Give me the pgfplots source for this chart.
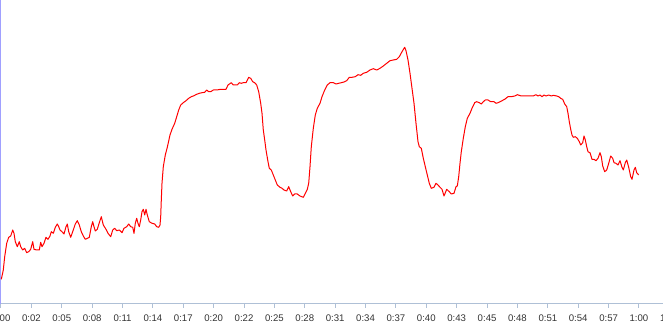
\documentclass[border=0pt]{standalone}
\usepackage{pgfplots}
\pgfplotsset{compat=1.18}
\usepackage{fontspec}
\setmainfont{Liberation Sans}
\definecolor{yaxc}{HTML}{A0A0FF}
\definecolor{xaxc}{HTML}{AFC0D6}
\definecolor{lblc}{HTML}{333333}
\begin{document}
\begin{tikzpicture}
\begin{axis}[at={(0,0)},anchor=south west,
  scale only axis, width=524.25pt, height=228pt,
  xmin=1, xmax=700, ymin=0, ymax=304,
  axis x line=bottom, axis y line=left, axis line style={-},
  x axis line style={xaxc,line width=0.75pt},
  y axis line style={yaxc,line width=0.75pt},
  ytick=\empty,
  xtick={1,31.38,61.76,92.14,122.52,152.9,183.28,213.66,244.04,274.42,304.8,335.18,365.56,395.94,426.32,456.7,487.08,517.46,547.84,578.22,608.6,638.98,669.36},
  xticklabels={0:00,0:02,0:05,0:08,0:11,0:14,0:17,0:20,0:22,0:25,0:28,0:31,0:34,0:37,0:40,0:43,0:45,0:48,0:51,0:54,0:57,1:00,1:02},
  tick align=outside, major tick length=3pt,
  x tick style={xaxc,line width=0.75pt},
  xticklabel style={font=\fontsize{7.2}{8}\selectfont, text=lblc, yshift=-1.5pt},
]
\addplot[color=red, line width=0.75pt, line join=round] table {
x y
1.3 24.7
3.3 34
4.7 47.3
6.7 60.7
8.7 66.7
10.7 68
12.7 74
14 70.7
15.3 62.3
17.3 57.3
19.3 62.3
20.7 57.3
22.7 54
24.7 55.7
26.7 51.3
28.7 52.3
30.7 54.7
32.7 62.3
34 54.7
36.7 54
39.3 54
40.7 61.7
42 57.3
44 60.7
46 66.7
48 64.7
50 68
51.3 72.3
53.3 70.7
55.3 76.7
57.3 80
58.7 77.3
60 74
62 72.3
64 70
66 77.3
67.3 80
68.7 72.3
70.7 66.7
72.7 72.3
75.3 80
77.3 83.3
79.3 79
81.3 72.3
83.3 68
85.3 64.7
87.3 65.7
89.3 66.7
91.3 77.3
92.7 82.3
94 77.3
95.3 73
97.3 74.7
99.3 81.3
101.3 87.3
103.3 79
106 74.7
108 70.7
110.7 67.3
112.7 74
114.7 75.7
116.7 73.3
119.3 74
122 71.3
124 75.7
126.7 77.3
128.7 80
130.7 77.3
132.7 76.7
134 70.7
135.3 80.7
136.7 85.7
138 80.7
139.3 77.3
140.7 84
142 92.3
143.3 94.7
144.7 89
146 94.7
147.3 89
149.3 82.3
152 80.7
154.7 80
156.7 77.3
158.7 76.7
160 79
160.7 87.3
161.3 104
162 120.7
163.3 137.3
165.3 149
167.3 156.7
170 169
172 174.7
174.7 180.7
176.7 187.3
178.7 194
180.7 199
183.3 201.3
186 203.3
188.7 205.7
191.3 207.3
194 208.3
196.7 209.7
199.3 210.7
202 211.3
204.7 211.7
206.7 214
208.7 212.3
210.7 212.3
213.3 214
216.7 214
220.7 214.7
226 214.7
228 219
231.3 221.3
233.3 219
237.3 219
239.3 221.3
241.3 220.7
243.3 221.3
246 221.3
248.7 226.7
250.7 225.7
252.7 222.3
254.7 221.3
256.7 219
258.7 212.3
260.7 200.7
262 190.7
263.3 174
264.7 164
266 154
268 142.3
269.3 135.7
271.3 134
273.3 129
275.3 124
277.3 119
280 116.7
282 115.7
284 114
286.7 113
288.7 117.3
290.7 112.3
292.7 108
294.7 110
297.3 110
300 108
303.3 106.7
305.3 110.7
307.3 114.7
308.7 120.7
310 137.3
311.3 157.3
313.3 175.7
315.3 189
317.3 195.7
320 200.7
322 207.3
324.7 214
327.3 219
330 221.3
333.3 221.3
336 220
338.7 220.7
341.3 221.3
344 222
346.7 223.3
349.3 226.7
352 226.7
355.3 227.3
358 229.3
360.7 228.7
363.3 230.7
366.7 231.7
370 234
373.3 235.3
376.7 234
380 235.7
383.3 238
386.7 240.7
390 243.3
393.3 244
396.7 244.7
399.3 247.3
402 252.3
404.7 256.7
406 253.3
408 244
410 230.7
412 215.7
414 200.7
416 180.7
418 162.3
419.3 157.3
421.3 155.7
423.3 145.7
425.3 137.3
427.3 129
429.3 120.7
431.3 115.7
434 116.7
436 120.7
438 119
440 116.7
442 114.7
444 108
446.7 114.7
449.3 112.3
451.3 110
454 110.7
456 117.3
457.3 118
458.7 127.3
460 140.7
461.3 152.3
463.3 165.7
465.3 177.3
467.3 185.7
470 190.7
472 195.7
474.7 201.3
476.7 202.3
479.3 201.3
481.3 200
483.3 202.3
485.3 204
488 204
490.7 202.3
494 202.3
496 200.7
498 201.3
500 202.3
502 203.3
504.7 204.7
508 207.3
511.3 207.3
514.7 208
517.3 209.3
521.3 208
525.3 208
530 208
533.3 208
536 209.3
538 208
540 209
542 207.3
544 209
546 208
548.7 209
551.3 208
553.3 208.7
556.7 208
558.7 207.3
560.7 205.7
562.7 204.7
564.7 200
566.7 197.3
568 190.7
569.3 182.3
570.7 174.7
572 169
573.3 166.7
575.3 167.3
577.3 165.7
579.3 162.3
580.7 159
582.7 161.3
584 168
585.3 164
586.7 157.3
588 152.3
590 151.3
592 144.7
594 144.7
596 143.3
598 145.7
600 151.3
601.3 147.3
602.7 138
604.7 132.3
606.7 134
608.7 140.7
610.7 148
612.7 145.7
614 141.3
616 140.7
618 139
620 143.3
622 136.7
623.3 134
625.3 141.3
626.7 144
628.7 136.7
630.7 127.3
632 124.7
634 134
635.3 136.7
636.7 131.3
638.7 129
};
\end{axis}
\pgfresetboundingbox
\path[use as bounding box] (-0.75pt,-23.25pt) rectangle (496.5pt,228pt);
\end{tikzpicture}
\end{document}
